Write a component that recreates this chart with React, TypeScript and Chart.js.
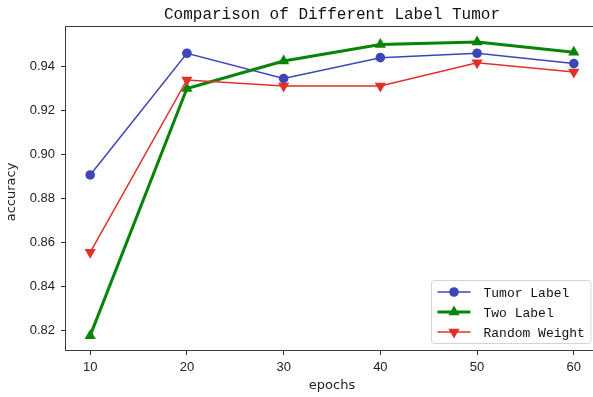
import React, { useEffect, useRef } from "react";
import { Chart, registerables } from "chart.js";

Chart.register(...registerables);

const epochs = [10, 20, 30, 40, 50, 60];
const tumorLabel = [0.8906, 0.9458, 0.9343, 0.9438, 0.9458, 0.9411];
const twoLabel = [0.8177, 0.9298, 0.9423, 0.9498, 0.9509, 0.9463];
const randomWeight = [0.8555, 0.9337, 0.9309, 0.9309, 0.9415, 0.9373];
const yTicks = [0.82, 0.84, 0.86, 0.88, 0.9, 0.92, 0.94];
const xTicks = [10, 20, 30, 40, 50, 60];
const seriesNames = ["Tumor Label", "Two Label", "Random Weight"];
const titleText = "Comparison of Different Label Tumor";
const xTitle = "epochs";
const yTitle = "accuracy";

const BLUE = "#3d46b8";
const GREEN = "#078407";
const RED = "#e0302a";

const MONO = "'Liberation Mono', 'DejaVu Sans Mono', monospace";
const SANS = "'DejaVu Sans', 'Liberation Sans', sans-serif";

const decorPlugin = {
  id: "decor",
  afterDraw(chart: any) {
    const ctx = chart.ctx as CanvasRenderingContext2D;
    const a = chart.chartArea;
    ctx.save();
    // frame
    ctx.strokeStyle = "#3a3a3a";
    ctx.lineWidth = 1;
    ctx.strokeRect(Math.round(a.left) - 0.5, Math.round(a.top) - 0.5, a.right - a.left, Math.round(a.bottom) - Math.round(a.top) + 1);
    // title
    ctx.fillStyle = "#111";
    ctx.font = `16px ${MONO}`;
    ctx.textAlign = "center";
    ctx.textBaseline = "alphabetic";
    ctx.fillText(titleText, (a.left + a.right) / 2, 18.5);
    // x title
    ctx.font = `13px ${SANS}`;
    ctx.fillStyle = "#222";
    ctx.fillText(xTitle, (a.left + a.right) / 2, 389);
    // y title
    ctx.save();
    ctx.translate(12, 192);
    ctx.rotate(-Math.PI / 2);
    ctx.textBaseline = "middle";
    ctx.fillText(yTitle, 0, 0);
    ctx.restore();

    // legend
    ctx.font = `13px ${MONO}`;
    const ds = chart.data.datasets;
    let maxW = 0;
    ds.forEach((d: any) => {
      maxW = Math.max(maxW, ctx.measureText(d.label).width);
    });
    const padL = 6, handle = 33, gap = 13, padR = 6, rowH = 20, padT = 11.5;
    const w = padL + handle + gap + maxW + padR;
    const h = padT * 2 + rowH * (ds.length - 1);
    const right = a.right - 8;
    const bx = Math.round(right - w) + 0.5;
    const by = Math.round(a.bottom - 7 - h) + 0.5;
    ctx.beginPath();
    const r = 3;
    ctx.moveTo(bx + r, by);
    ctx.lineTo(bx + w - r, by);
    ctx.arcTo(bx + w, by, bx + w, by + r, r);
    ctx.lineTo(bx + w, by + h - r);
    ctx.arcTo(bx + w, by + h, bx + w - r, by + h, r);
    ctx.lineTo(bx + r, by + h);
    ctx.arcTo(bx, by + h, bx, by + h - r, r);
    ctx.lineTo(bx, by + r);
    ctx.arcTo(bx, by, bx + r, by, r);
    ctx.closePath();
    ctx.fillStyle = "rgba(255,255,255,0.85)";
    ctx.fill();
    ctx.strokeStyle = "#d4d4d4";
    ctx.stroke();
    ds.forEach((d: any, i: number) => {
      const cy = by + padT + i * rowH;
      const x0 = bx + padL;
      ctx.strokeStyle = d.borderColor;
      ctx.lineWidth = d.borderWidth;
      ctx.beginPath();
      ctx.moveTo(x0, cy);
      ctx.lineTo(x0 + handle, cy);
      ctx.stroke();
      ctx.fillStyle = d.pointBackgroundColor;
      const cx = x0 + handle / 2;
      const rad = d.pointRadius;
      ctx.beginPath();
      if (d.pointStyle === "circle") {
        ctx.arc(cx, cy, rad, 0, Math.PI * 2);
      } else {
        const dir = d.pointRotation === 180 ? -1 : 1;
        for (let k = 0; k < 3; k++) {
          const ang = (k * 2 * Math.PI) / 3;
          const px = cx + Math.sin(ang) * rad;
          const py = cy - dir * Math.cos(ang) * rad;
          if (k === 0) ctx.moveTo(px, py);
          else ctx.lineTo(px, py);
        }
        ctx.closePath();
      }
      ctx.fill();
      ctx.fillStyle = "#111";
      ctx.textAlign = "left";
      ctx.textBaseline = "alphabetic";
      ctx.fillText(d.label, x0 + handle + gap, cy + 4.5);
    });
    ctx.restore();
  },
};

export default function App() {
  const ref = useRef<HTMLCanvasElement | null>(null);
  useEffect(() => {
    document.body.style.margin = "0";
    document.body.style.overflow = "hidden";
    const canvas = ref.current;
    if (!canvas) return;
    const mk = (vals: number[]) => epochs.map((e, i) => ({ x: e, y: vals[i] }));
    const chart = new Chart(canvas, {
      type: "line",
      data: {
        datasets: [
          {
            label: seriesNames[0],
            data: mk(tumorLabel),
            borderColor: BLUE,
            backgroundColor: BLUE,
            pointBackgroundColor: BLUE,
            pointBorderColor: BLUE,
            borderWidth: 1.5,
            pointStyle: "circle",
            pointRadius: 4.8,
            pointBorderWidth: 0,
            pointRotation: 0,
            order: 2,
          },
          {
            label: seriesNames[1],
            data: mk(twoLabel),
            borderColor: GREEN,
            backgroundColor: GREEN,
            pointBackgroundColor: GREEN,
            pointBorderColor: GREEN,
            borderWidth: 3,
            pointStyle: "triangle",
            pointRadius: 6.5,
            pointBorderWidth: 0,
            pointRotation: 0,
            order: 1,
          },
          {
            label: seriesNames[2],
            data: mk(randomWeight),
            borderColor: RED,
            backgroundColor: RED,
            pointBackgroundColor: RED,
            pointBorderColor: RED,
            borderWidth: 1.5,
            pointStyle: "triangle",
            pointRadius: 6.5,
            pointBorderWidth: 0,
            pointRotation: 180,
            order: 0,
          },
        ] as any,
      },
      options: {
        responsive: false,
        animation: false,
        devicePixelRatio: 1,
        layout: { padding: { top: 27, right: 12, left: 0, bottom: 0 } },
        plugins: {
          legend: { display: false },
          title: { display: false },
          tooltip: { enabled: false },
        },
        elements: { line: { tension: 0 } },
        scales: {
          x: {
            type: "linear",
            min: 7.5,
            max: 62.5,
            afterFit: (s: any) => {
              s.height = 47;
              s.paddingLeft = 0;
              s.paddingRight = 0;
            },
            afterBuildTicks: (s: any) => {
              s.ticks = xTicks.map((v) => ({ value: v }));
            },
            grid: {
              drawOnChartArea: false,
              drawTicks: true,
              tickLength: 5,
              color: "#333",
            },
            border: { display: false },
            ticks: {
              padding: 5,
              color: "#222",
              font: { family: "'Liberation Sans', Arial, sans-serif", size: 13 },
              maxRotation: 0,
              autoSkip: false,
            },
          },
          y: {
            type: "linear",
            min: 0.8112,
            max: 0.9577,
            afterFit: (s: any) => {
              s.width = 66;
              s.paddingTop = 0;
              s.paddingBottom = 0;
            },
            afterBuildTicks: (s: any) => {
              s.ticks = yTicks.map((v) => ({ value: v }));
            },
            grid: {
              drawOnChartArea: false,
              drawTicks: true,
              tickLength: 5,
              color: "#333",
            },
            border: { display: false },
            ticks: {
              padding: 6,
              color: "#222",
              font: { family: "'Liberation Sans', Arial, sans-serif", size: 13 },
              callback: (v: any) => Number(v).toFixed(2),
              autoSkip: false,
            },
          },
        },
      },
      plugins: [decorPlugin],
    });
    return () => chart.destroy();
  }, []);
  return (
    <div style={{ width: 593, height: 397, overflow: "hidden" }}>
      <canvas ref={ref} width={610} height={397} />
    </div>
  );
}
